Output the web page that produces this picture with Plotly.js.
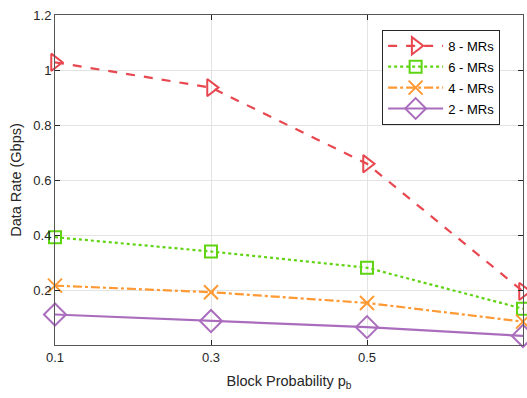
<!DOCTYPE html>
<html><head><meta charset="utf-8">
<script src="https://cdn.plot.ly/plotly-3.0.1.min.js"></script>
<style>html,body{margin:0;padding:0;background:#fff}#c{width:527px;height:398px}</style>
</head><body><div id="c"></div>
<script>
const blockProb = [0.1, 0.3, 0.5, 0.7];
const mr8 = [1.028, 0.936, 0.659, 0.195];
const mr6 = [0.392, 0.340, 0.281, 0.132];
const mr4 = [0.216, 0.192, 0.153, 0.085];
const mr2 = [0.111, 0.087, 0.065, 0.033];
const xTicks = [0.1, 0.3, 0.5];
const yTicks = [0.2, 0.4, 0.6, 0.8, 1, 1.2];

function tr(name, y, color, dash, sym, size){
  return {x: blockProb, y: y, name: name, legendgroup:name, type:'scatter', mode:'lines+markers', cliponaxis:false,
    line:{color:color, width:2.2, dash:dash},
    marker:{symbol:sym, size:size, color:color, line:{color:color, width:2}}};
}
const data = [
  tr('8 - MRs', mr8, '#E8474F', 'dash', 'triangle-right-open', 15),
  tr('6 - MRs', mr6, '#5FD412', 'dot', 'square-open', 12),
  tr('4 - MRs', mr4, '#FF9933', 'dashdot', 'x-thin-open', 14),
  tr('2 - MRs', mr2, '#AA6DBD', 'solid', 'diamond-open', 17)
];
const ax = {showline:true, linecolor:'#555', linewidth:1, mirror:'ticks', ticks:'inside', ticklen:5,
  tickcolor:'#262626', gridcolor:'#e3e3e3', zeroline:false,
  tickfont:{family:'Liberation Sans, Arial', size:13, color:'#262626'}};
const layout = {
  width:527, height:398, margin:{l:55, r:4, t:15, b:53},
  paper_bgcolor:'#fff', plot_bgcolor:'#fff', showlegend:true,
  font:{family:'Liberation Sans, Arial', color:'#262626'},
  xaxis: Object.assign({}, ax, {range:[0.1,0.7], tickvals:xTicks, ticktext:['0.1','0.3','0.5'],
    title:{text:'Block Probability p<sub>b</sub>', font:{size:14.5, color:'#262626'}, standoff:12}}),
  yaxis: Object.assign({}, ax, {range:[0,1.2], tickvals:yTicks, ticktext:['0.2','0.4','0.6','0.8','1','1.2'],
    title:{text:'Data Rate (Gbps)', font:{size:14.5, color:'#262626'}, standoff:8}}),
  legend:{x:0.699, y:0.955, xanchor:'left', yanchor:'top', bgcolor:'#fff', bordercolor:'#262626', borderwidth:1,
    font:{size:13, color:'#000'}, itemwidth:55, traceorder:'grouped', tracegroupgap:1}
};
Plotly.newPlot('c', data, layout, {displayModeBar:false, staticPlot:true});
</script></body></html>
